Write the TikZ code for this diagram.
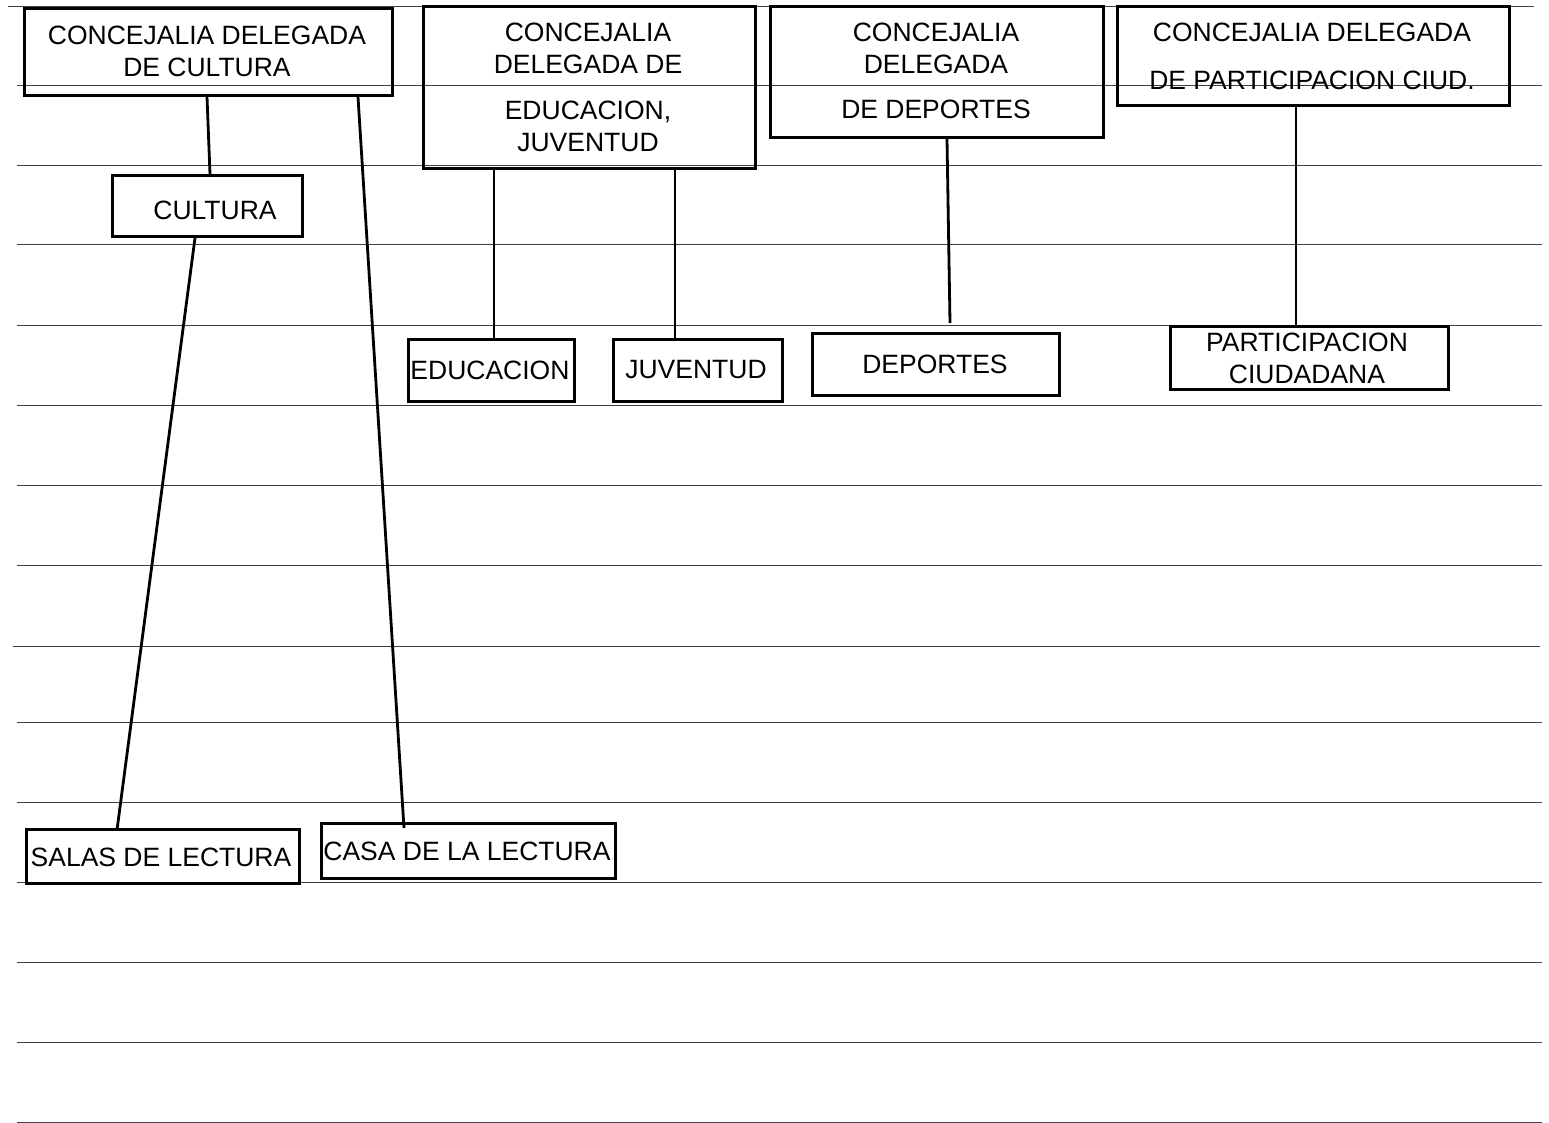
\documentclass[tikz,border=0pt]{standalone}
\usepackage{fontspec}
\setmainfont{Liberation Sans}
\begin{document}
\begin{tikzpicture}[x=1pt,y=-1pt,
  rule/.style={draw=black!75, line width=0.9pt},
  box/.style={draw, line width=3pt, rectangle, inner sep=0pt, anchor=north west},
  conn/.style={line width=2.8pt},
  lbl/.style={inner sep=0pt, align=center, anchor=north, font=\fontsize{26.5}{32}\selectfont}
]
\useasboundingbox (0,0) rectangle (1549,1123);
% ruled lines
\draw[rule] (8,6) -- (1534,6);
\foreach \yy in {85,165,244,325,405,485,565,722,802,882,962,1042,1122}
  \draw[rule] (17,\yy) -- (1542,\yy);
\draw[rule] (13,646) -- (1540,646);

% boxes
\node[box, minimum width=368, minimum height=87] (cdc) at (23,7) {};
\node[box, minimum width=190, minimum height=61] (cult) at (111,174) {};
\node[box, minimum width=332, minimum height=162] (cde) at (422,5) {};
\node[box, minimum width=333, minimum height=131] (cdd) at (769,5) {};
\node[box, minimum width=392, minimum height=99] (cdp) at (1116,5) {};
\node[box, minimum width=166, minimum height=62] (educ) at (407,338) {};
\node[box, minimum width=169, minimum height=62] (juv) at (612,338) {};
\node[box, minimum width=247, minimum height=62] (dep) at (811,332) {};
\node[box, minimum width=278, minimum height=63] (part) at (1169,325) {};
\node[box, minimum width=273, minimum height=54] (salas) at (25,828) {};
\node[box, minimum width=294, minimum height=55] (casa) at (320,822) {};

% texts
\node[lbl] (tcdc) at (207,25.5) {CONCEJALIA DELEGADA\\DE CULTURA};
\node[lbl] (tcult) at (215,200.5) {CULTURA};
\node[lbl] (tcde) at (588,22.5) {CONCEJALIA\\DELEGADA DE\\[14pt]EDUCACION,\\JUVENTUD};
\node[lbl] (tcdd) at (936,22.5) {CONCEJALIA\\DELEGADA\\[13pt]DE DEPORTES};
\node[lbl] (tcdp) at (1312,22.5) {CONCEJALIA DELEGADA\\[16pt]DE PARTICIPACION CIUD.};
\node[lbl] (teduc) at (490,360.5) {EDUCACION};
\node[lbl] (tjuv) at (696,360.5) {JUVENTUD};
\node[lbl] (tdep) at (935,354.5) {DEPORTES};
\node[lbl] (tpart) at (1307,332.5) {PARTICIPACION\\CIUDADANA};
\node[lbl] (tsalas) at (161,847.5) {SALAS DE LECTURA};
\node[lbl] (tcasa) at (467,841.5) {CASA DE LA LECTURA};

% connectors
\coordinate (dpend) at (950,323);
\coordinate (casaend) at (404,828);
\coordinate (salasend) at (117,830);
\draw[conn] (cdc.south -| 207,0) -- (cult.north -| 210,0);
\draw[conn] (cult.south -| 195,0) -- (salasend);
\draw[conn] (cdc.south -| 358,0) -- (casaend);
\draw[conn] (cde.south -| 494,0) -- (educ.north -| 494,0);
\draw[conn] (cde.south -| 675,0) -- (juv.north -| 675,0);
\draw[conn] (cdd.south -| 947,0) -- (dpend);
\draw[conn] (cdp.south -| 1296,0) -- (part.north -| 1296,0);
\end{tikzpicture}
\end{document}
